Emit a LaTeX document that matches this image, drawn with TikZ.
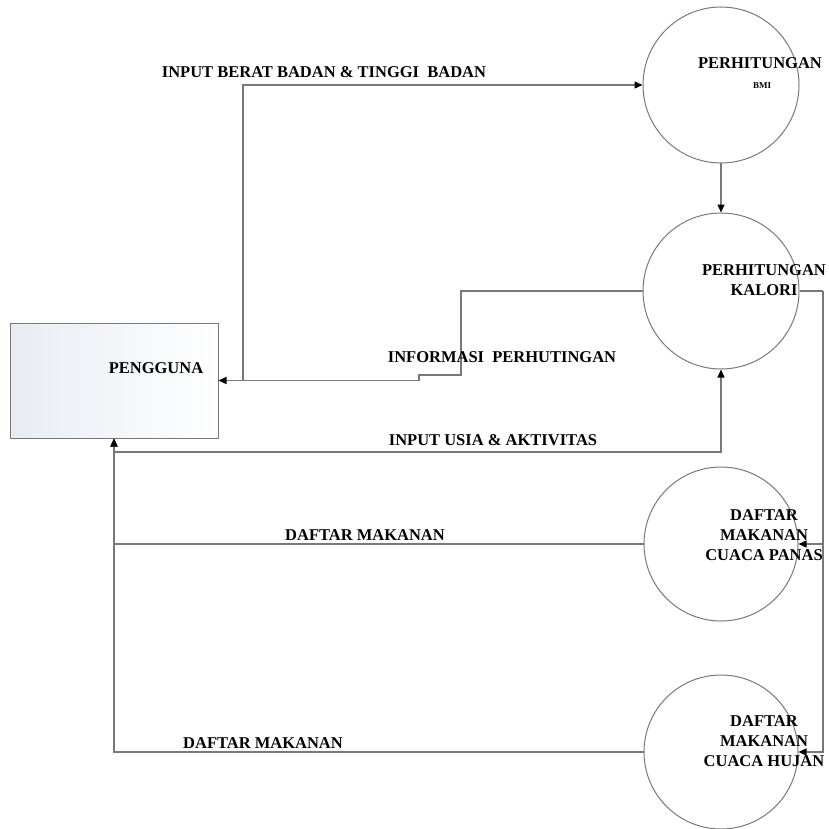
\documentclass[tikz,border=0pt]{standalone}
\usepackage{fontspec}
\setmainfont{Liberation Serif}
\usetikzlibrary{arrows.meta,calc}
\definecolor{linegray}{RGB}{120,120,120}
\definecolor{boxleft}{RGB}{232,236,242}
\tikzset{
  flow/.style={draw=linegray,line width=1.3pt,-{Triangle[length=8pt,width=7pt,color=black]}},
  plain/.style={draw=linegray,line width=1.3pt},
  proc/.style={circle,draw=linegray,line width=1pt,minimum size=156pt,inner sep=0pt},
  lbl/.style={font=\bfseries\fontsize{16.5}{20}\selectfont,inner sep=0pt,align=center},
}
\begin{document}
\begin{tikzpicture}[x=1pt,y=-1pt]
\useasboundingbox (0,0) rectangle (828,829);
% entity
\node[draw=linegray,line width=1pt,left color=boxleft,right color=white,
      minimum width=208pt,minimum height=115pt,inner sep=0pt] (peng) at (114,380.5) {};
\node[lbl] (pengtxt) at (156,368) {PENGGUNA};
% processes
\node[proc] (bmi) at (721,85) {};
\node[proc] (kal) at (721,291) {};
\node[proc,minimum size=154pt] (panas) at (721,544) {};
\node[proc,minimum size=154pt] (hujan) at (721,752) {};
% process texts
\node[lbl] (bmitxt) at (760,63) {PERHITUNGAN};
\node[font=\bfseries\fontsize{9}{10}\selectfont,inner sep=0pt] (bmitxt2) at (762,86) {BMI};
\node[lbl] (kaltxt) at (764,280) {PERHITUNGAN\\KALORI};
\node[lbl] (panastxt) at (764,535) {DAFTAR\\MAKANAN\\CUACA PANAS};
\node[lbl] (hujantxt) at (764,741) {DAFTAR\\MAKANAN\\CUACA HUJAN};
% waypoints
\coordinate (c1) at (243,85);
\coordinate (c2) at (461,375);
\coordinate (c3) at (419,375);
\coordinate (jn) at (114,452);
\coordinate (r1) at (823,291);
\coordinate (r2) at (823,544);
% flows
\draw[flow] (peng.east) -| (c1) -- (bmi.west);
\draw[flow] (bmi.south) -- (kal.north);
\draw[flow] (kal.west) -| (c2) -- (c3) |- (peng.east);
\draw[flow] (jn) -| (kal.south);
\draw[flow] (panas.west) -| (peng.south);
\draw[flow] (hujan.west) -| (peng.south);
\draw[plain] (kal.east) -- (r1);
\draw[flow] (r1) |- (hujan.east);
\draw[flow] (r2) -- (panas.east);
% flow labels
\node[lbl] (l1) at (324,72) {INPUT BERAT BADAN \& TINGGI\ \ BADAN};
\node[lbl] (l2) at (502,357) {INFORMASI\ \ PERHUTINGAN};
\node[lbl] (l3) at (493,440) {INPUT USIA \& AKTIVITAS};
\node[lbl] (l4) at (365,535) {DAFTAR MAKANAN};
\node[lbl] (l5) at (263,743) {DAFTAR MAKANAN};
\end{tikzpicture}
\end{document}
